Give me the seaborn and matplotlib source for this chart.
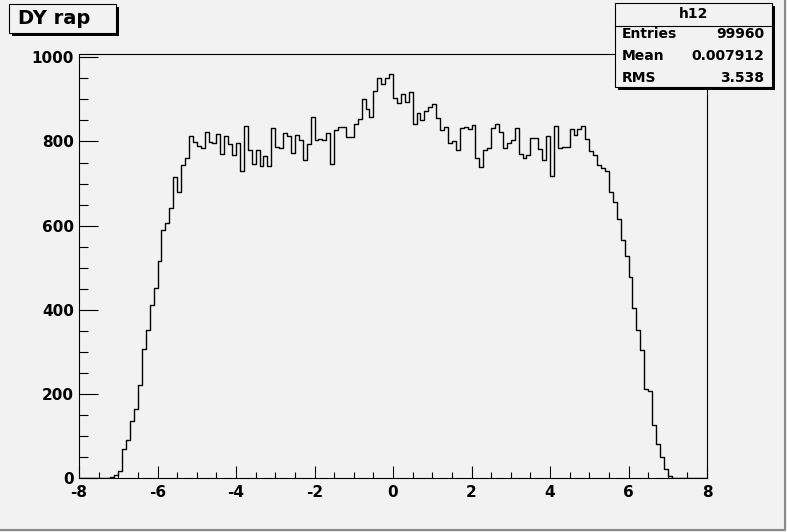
import numpy as np
import pandas as pd
import seaborn as sns
import matplotlib.pyplot as plt
from matplotlib.patches import Rectangle
from matplotlib.ticker import MultipleLocator

# DY rapidity histogram, 160 bins of 0.1 from -8 to 8
x_lo, x_hi, n_bins = -8.0, 8.0, 160
edges = np.linspace(x_lo, x_hi, n_bins + 1)

# counts for bins -7.2 ... 7.1, everything else empty
counts_read = [
    2, 7, 17, 68, 90, 136, 165, 222, 307, 351,
    412, 452, 515, 589, 606, 642, 715, 679, 743, 761,
    813, 798, 790, 785, 823, 799, 797, 819, 770, 812,
    795, 767, 797, 729, 837, 779, 746, 779, 742, 766,
    741, 831, 787, 785, 820, 812, 772, 816, 803, 755,
    795, 859, 803, 806, 804, 820, 747, 828, 835, 835,
    810, 811, 842, 854, 901, 878, 858, 920, 951, 936,
    951, 960, 903, 892, 914, 895, 918, 841, 868, 850,
    872, 881, 888, 857, 827, 834, 796, 800, 779, 831,
    834, 829, 840, 761, 739, 779, 785, 831, 841, 823,
    785, 797, 804, 832, 770, 761, 769, 809, 808, 783,
    757, 813, 717, 837, 784, 786, 786, 829, 815, 830,
    837, 806, 778, 767, 745, 738, 730, 679, 656, 615,
    565, 527, 477, 404, 352, 304, 212, 207, 127, 81,
    51, 21, 5, 1,
]
counts = [0] * 8 + counts_read + [0] * 8
centers = (edges[:-1] + edges[1:]) / 2
df = pd.DataFrame({"rap": centers, "n": counts})

hist_title = "DY rap"
stats_name = "h12"
stats_rows = [("Entries", "99960"), ("Mean", "0.007912"), ("RMS", "3.538")]

bg = "#f2f2f2"
plt.rcParams["font.family"] = ["DejaVu Sans"]
plt.rcParams["font.weight"] = "bold"
plt.rcParams["axes.unicode_minus"] = False

W, H = 787, 532
fig = plt.figure(figsize=(W / 100, H / 100), dpi=100, facecolor=bg)
ax = fig.add_axes([79 / W, 1 - 478 / H, (707 - 79) / W, (478 - 54) / H])
ax.set_facecolor(bg)

sns.histplot(data=df, x="rap", weights="n", bins=n_bins, binrange=(x_lo, x_hi),
             element="step", fill=False, color="black", linewidth=1.0, ax=ax)

ax.set_xlim(x_lo, x_hi)
ax.set_ylim(0, max(counts) * 1.05)
ax.set_xlabel("")
ax.set_ylabel("")
ax.xaxis.set_major_locator(MultipleLocator(2))
ax.xaxis.set_minor_locator(MultipleLocator(0.5))
ax.yaxis.set_major_locator(MultipleLocator(200))
ax.yaxis.set_minor_locator(MultipleLocator(50))
ax.tick_params(axis="x", which="major", direction="in", length=8.6, width=0.8, pad=5,
               labelsize=11)
ax.tick_params(axis="x", which="minor", direction="in", length=4.3, width=0.8)
ax.tick_params(axis="y", which="major", direction="in", length=13.5, width=0.8, pad=3.5,
               labelsize=11)
ax.tick_params(axis="y", which="minor", direction="in", length=6.5, width=0.8)
for lab in ax.get_xticklabels() + ax.get_yticklabels():
    lab.set_fontweight("bold")
for sp in ax.spines.values():
    sp.set_color("black")
    sp.set_linewidth(0.8)

# overlay in pixel coordinates for the title and stats boxes
ov = fig.add_axes([0, 0, 1, 1], facecolor="none")
ov.set_xlim(0, W)
ov.set_ylim(H, 0)
ov.axis("off")

# title box with shadow
ov.add_patch(Rectangle((12, 7), 107, 29, facecolor="black", edgecolor="none"))
ov.add_patch(Rectangle((9, 4), 107, 29, facecolor=bg, edgecolor="black", linewidth=0.8))
ov.text(18, 19, hist_title, fontsize=14, fontweight="bold", va="center", ha="left")

# stats box with shadow
ov.add_patch(Rectangle((618, 6), 157, 84, facecolor="black", edgecolor="none"))
ov.add_patch(Rectangle((615, 3), 157, 84, facecolor=bg, edgecolor="black", linewidth=0.8))
ov.plot([615, 772], [26, 26], color="black", linewidth=0.8)
ov.text(693.5, 14, stats_name, fontsize=10, fontweight="bold", ha="center", va="center")
for i, (name, val) in enumerate(stats_rows):
    y = 34 + 22 * i
    ov.text(622, y, name, fontsize=10, fontweight="bold", ha="left", va="center")
    ov.text(764, y, val, fontsize=10, fontweight="bold", ha="right", va="center")

# canvas bevel on the right and bottom
ov.plot([W - 2, W - 2, 1], [1, H - 2, H - 2], color="#8a8a8a", linewidth=1.5)

fig.savefig("out.png", dpi=100, facecolor=bg)
